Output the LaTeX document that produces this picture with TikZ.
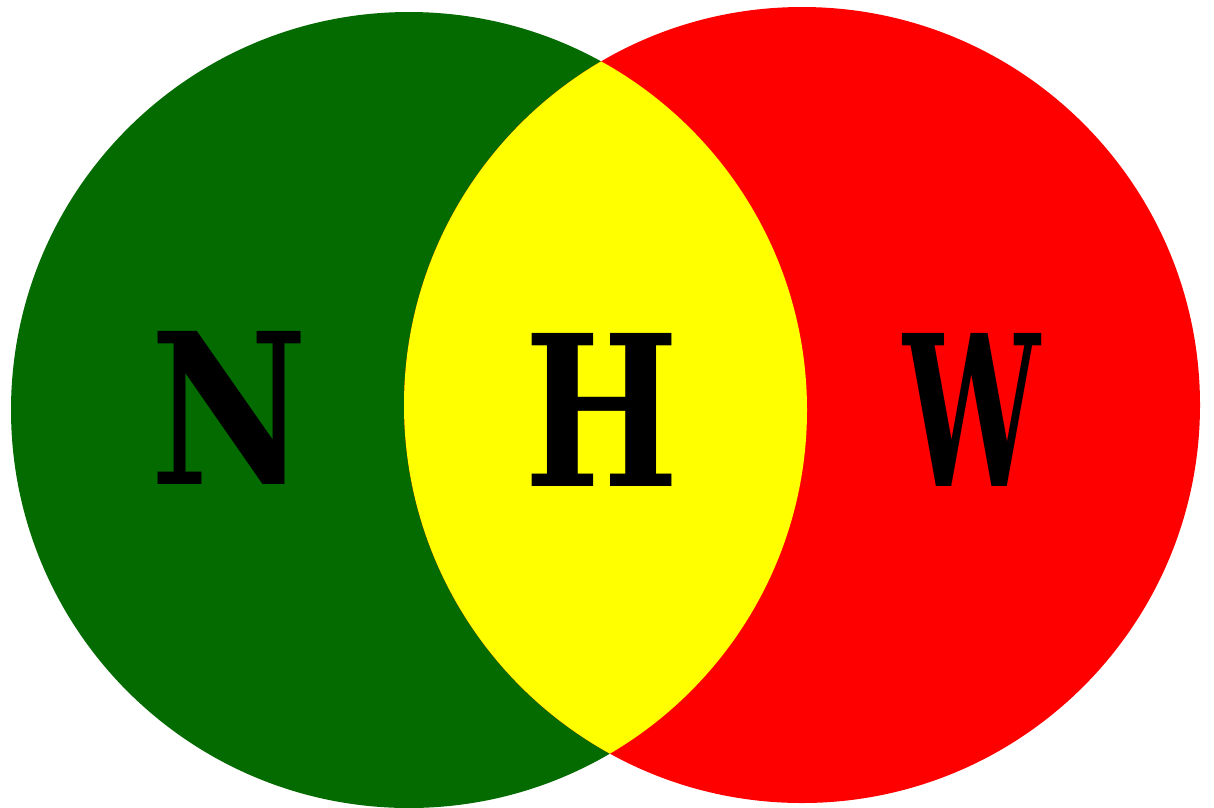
\documentclass[tikz,border=0pt]{standalone}
\usepackage{fontspec}
\setmainfont{DejaVu Serif}
\definecolor{vgreen}{HTML}{046B00}
\definecolor{vred}{HTML}{FF0000}
\definecolor{vyellow}{HTML}{FFFF00}
\begin{document}
\begin{tikzpicture}[x=1pt,y=-1pt,
  letter/.style={text=black,font=\fontsize{210}{210}\selectfont\bfseries,inner sep=0pt,anchor=center}]
\useasboundingbox (0,0) rectangle (1214,807);
\fill[white] (0,0) rectangle (1214,807);
\fill[vgreen] (409,410) circle[radius=398];
\fill[vred] (802,405) circle[radius=398];
\begin{scope}
  \clip (409,410) circle[radius=398];
  \fill[vyellow] (802,405) circle[radius=398];
\end{scope}
\node[letter,xscale=0.82] (n) at (229,408) {N};
\node[letter,xscale=0.78] (h) at (602,410) {H};
\node[letter,xscale=0.58] (w) at (972,410) {W};
\end{tikzpicture}
\end{document}
